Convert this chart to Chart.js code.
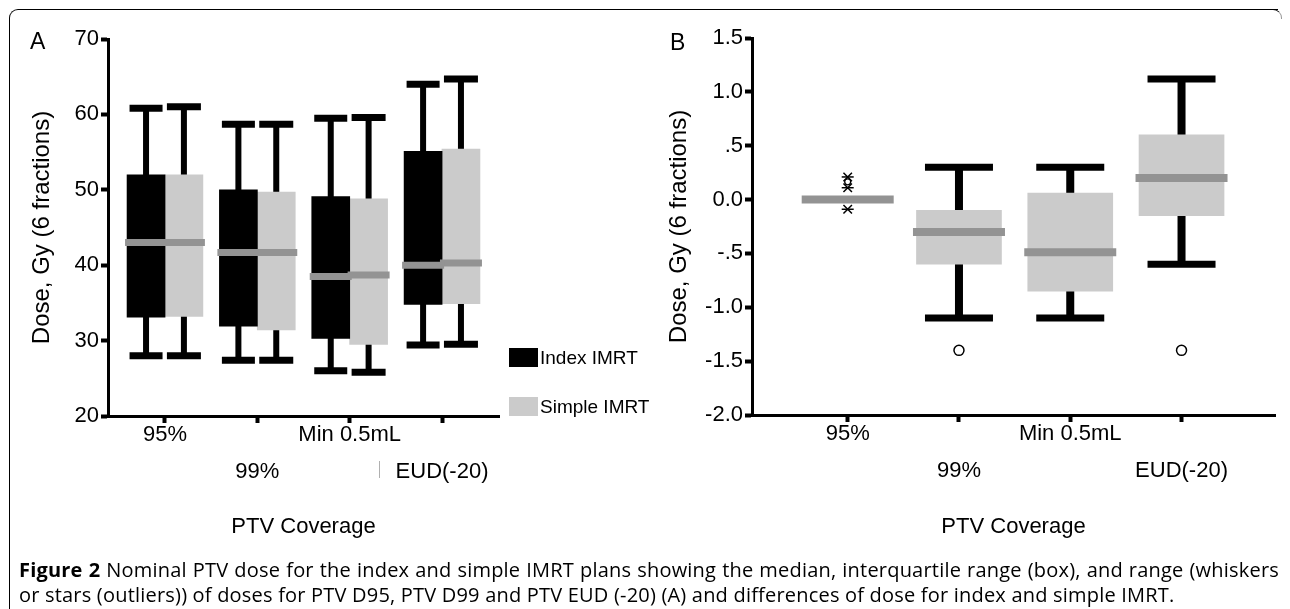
<!DOCTYPE html>
<html>
<head>
<meta charset="utf-8">
<script src="https://cdn.jsdelivr.net/npm/chart.js@4.4.1/dist/chart.umd.min.js"></script>
<style>
html,body{margin:0;padding:0;background:#fff;}
body{width:1290px;height:609px;position:relative;overflow:hidden;font-family:"Liberation Sans",Arial,sans-serif;color:#000;}
#frame{position:absolute;left:9px;top:9px;width:1268px;height:640px;border-left:1.5px solid #000;border-top:1.5px solid #000;border-top-left-radius:9px;}
#corner{position:absolute;left:1272px;top:9px;width:9px;height:9px;border-top:1.5px solid #000;border-right:1.5px solid #999;border-top-right-radius:9px;}
canvas{position:absolute;top:0;}
#cL{left:0;}
#cR{left:650px;}
.plab{position:absolute;font-size:23px;line-height:23px;}
#legend{position:absolute;left:509px;top:348px;font-size:19px;}
.li{position:absolute;left:0;white-space:nowrap;height:19px;}
.li .sw{position:absolute;left:0;top:0;width:29px;height:19px;}
.li .tx{position:absolute;left:31px;top:-1px;line-height:21px;}
#artifact{position:absolute;left:379px;top:461px;width:1px;height:17px;background:#b0b0b0;}
#caption{position:absolute;left:19px;top:557px;width:1260px;font-family:"Open Sans","Noto Sans",sans-serif;font-size:20px;letter-spacing:0.2px;line-height:25px;font-weight:500;color:#000;}
#caption .l1{text-align:justify;text-align-last:justify;white-space:nowrap;}
#caption .l2{white-space:nowrap;}
#caption b{font-weight:700;}
</style>
</head>
<body>
<div id="frame"></div>
<div id="corner"></div>
<canvas id="cL" width="650" height="560"></canvas>
<canvas id="cR" width="640" height="560"></canvas>
<div class="plab" style="left:30px;top:30px;">A</div>
<div class="plab" style="left:670px;top:31px;">B</div>
<div id="legend"></div>
<div id="artifact"></div>
<div id="caption">
<div class="l1"><b>Figure 2</b> Nominal PTV dose for the index and simple IMRT plans showing the median, interquartile range (box), and range (whiskers</div>
<div class="l2">or stars (outliers)) of doses for PTV D95, PTV D99 and PTV EUD (-20) (A) and differences of dose for index and simple IMRT.</div>
</div>
<script>
// ---------- DATA ----------
const categories = ['95%', '99%', 'Min 0.5mL', 'EUD(-20)'];
const labelSecondRow = [false, true, false, true];

// Panel A: absolute dose (Gy)
const indexMin    = [28.0, 27.4, 26.0, 29.4];
const indexQ1     = [33.1, 31.9, 30.3, 34.8];
const indexMedian = [43.0, 41.7, 38.5, 40.0];
const indexQ3     = [52.0, 50.0, 49.1, 55.1];
const indexMax    = [60.8, 58.7, 59.5, 64.0];

const simpleMin    = [28.0, 27.4, 25.8, 29.5];
const simpleQ1     = [33.2, 31.4, 29.5, 34.9];
const simpleMedian = [43.0, 41.7, 38.7, 40.3];
const simpleQ3     = [52.0, 49.7, 48.8, 55.4];
const simpleMax    = [61.0, 58.7, 59.6, 64.7];

const leftYTicks = [20, 30, 40, 50, 60, 70];

// Panel B: differences (Gy)
const diffMin    = [null, -1.1, -1.1, -0.6];
const diffQ1     = [0, -0.6, -0.85, -0.15];
const diffMedian = [0, -0.3, -0.49, 0.2];
const diffQ3     = [0, -0.1, 0.06, 0.6];
const diffMax    = [null, 0.3, 0.3, 1.12];

const diffStarCat   = [1, 1, 1];
const diffStarVals  = [0.21, 0.11, -0.09];
const diffCircleCat  = [2, 4];
const diffCircleVals = [-1.4, -1.4];
const diffSmallCircleCat  = [1];
const diffSmallCircleVals = [0.165];

const rightYTicks      = [-2, -1.5, -1, -0.5, 0, 0.5, 1, 1.5];
const rightYTickLabels = ['-2.0', '-1.5', '-1.0', '-.5', '0.0', '.5', '1.0', '1.5'];

// ---------- STYLE ----------
const FONT = '"Liberation Sans", Arial, sans-serif';
const BOX_BLACK = '#000000';
const BOX_GREY = '#cbcbcb';
const MEDIAN_GREY = '#939393';

function boxSeries(o) {
  const xs = categories.map((c, i) => i + 1 + o.shift);
  const stems = [], caps = [];
  xs.forEach((x, i) => {
    if (o.min[i] === null || o.max[i] === null) return;
    stems.push({x, y: o.min[i]}, {x, y: o.max[i]}, {x, y: null});
    caps.push({x, y: o.min[i]}, {x, y: o.max[i]});
  });
  return [
    {type: 'line', data: stems, borderColor: '#000', borderWidth: o.stemW, pointRadius: 0,
     spanGaps: false, tension: 0, order: 6, clip: false},
    {type: 'bar', label: o.label, data: xs.map((x, i) => ({x, y: [o.q1[i], o.q3[i]]})),
     backgroundColor: o.color, borderWidth: 0, barThickness: o.boxW, grouped: false, order: 5, legendItem: true},
    {type: 'scatter', data: caps, pointStyle: 'line', pointRadius: o.capR, pointBorderWidth: o.capW,
     pointBorderColor: '#000', pointBackgroundColor: '#000', order: 4, clip: false},
    {type: 'scatter', data: xs.map((x, i) => ({x, y: o.med[i]})), pointStyle: 'line', pointRadius: o.medR,
     pointBorderWidth: o.medW, pointBorderColor: MEDIAN_GREY, pointBackgroundColor: MEDIAN_GREY, order: 3, clip: false}
  ];
}

function xAxis(min, max, height) {
  return {
    type: 'linear', min, max, offset: false,
    afterBuildTicks: s => { s.ticks = categories.map((c, i) => ({value: i + 1})); },
    afterFit: s => { s.height = height; s.paddingLeft = 0; s.paddingRight = 0; },
    border: {display: true, color: '#000', width: 3},
    grid: {display: true, drawOnChartArea: false, drawTicks: true, tickLength: 7, tickWidth: 4,
           tickColor: '#000', color: '#000', offset: false},
    ticks: {autoSkip: false, maxRotation: 0, minRotation: 0, padding: -6.25, color: '#000',
            font: {family: FONT, size: 22, lineHeight: '36.5px'},
            callback: (v) => { const i = Math.round(v) - 1; return labelSecondRow[i] ? ['', categories[i]] : categories[i]; }},
    title: {display: true, text: 'PTV Coverage', color: '#000', font: {family: FONT, size: 22, lineHeight: 1.2},
            padding: {top: 0, bottom: 20}}
  };
}

function yAxis(min, max, ticks, labels, width, titlePad) {
  return {
    type: 'linear', min, max,
    afterBuildTicks: s => { s.ticks = ticks.map(v => ({value: v})); },
    afterFit: s => { s.width = width; },
    border: {display: true, color: '#000', width: 3},
    grid: {display: true, drawOnChartArea: false, drawTicks: true, tickLength: 7, tickWidth: 4,
           tickColor: '#000', color: '#000'},
    ticks: {padding: 2, color: '#000', font: {family: FONT, size: 22},
            callback: (v) => { const k = ticks.indexOf(v); return labels ? labels[k] : String(v); }},
    title: {display: true, text: 'Dose, Gy (6 fractions)', color: '#000',
            font: {family: FONT, size: 24, lineHeight: 1.2}, padding: {top: titlePad, bottom: 0}}
  };
}

const commonOpts = {
  responsive: false, animation: false, events: [],
  plugins: {legend: {display: false}, tooltip: {enabled: false}}
};

// ---------- PANEL A ----------
const GROUP_SHIFT = 0.205;
const leftDatasets = [
  ...boxSeries({label: 'Index IMRT', shift: -GROUP_SHIFT, min: indexMin, q1: indexQ1, med: indexMedian, q3: indexQ3, max: indexMax,
                color: BOX_BLACK, boxW: 38, stemW: 6, capR: 16.5, capW: 7, medR: 21, medW: 7}),
  ...boxSeries({label: 'Simple IMRT', shift: GROUP_SHIFT, min: simpleMin, q1: simpleQ1, med: simpleMedian, q3: simpleQ3, max: simpleMax,
                color: BOX_GREY, boxW: 38, stemW: 6, capR: 17, capW: 7, medR: 21, medW: 7})
];

const chartL = new Chart(document.getElementById('cL'), {
  type: 'scatter',
  data: {datasets: leftDatasets},
  options: Object.assign({}, commonOpts, {
    layout: {autoPadding: false, padding: {top: 39, right: 151, bottom: 0, left: 0}},
    scales: {
      x: xAxis(0.383, 4.617, 144),
      y: yAxis(20, 70, leftYTicks, null, 108, 27.5)
    }
  })
});

// ---------- PANEL B ----------
const rightDatasets = [
  ...boxSeries({label: 'Difference', shift: 0, min: diffMin, q1: diffQ1, med: diffMedian, q3: diffQ3, max: diffMax,
                color: BOX_GREY, boxW: 85, stemW: 8, capR: 34, capW: 7, medR: 46, medW: 8}),
  {type: 'scatter', data: diffStarCat.map((c, i) => ({x: c, y: diffStarVals[i]})), pointStyle: 'crossRot',
   pointRadius: 6, pointBorderWidth: 1.5, pointBorderColor: '#000', order: 1, clip: false},
  {type: 'scatter', data: diffStarCat.map((c, i) => ({x: c, y: diffStarVals[i]})), pointStyle: 'line',
   pointRadius: 6, pointBorderWidth: 1.5, pointBorderColor: '#000', order: 1, clip: false},
  {type: 'scatter', data: diffCircleCat.map((c, i) => ({x: c, y: diffCircleVals[i]})), pointStyle: 'circle',
   pointRadius: 5, pointBorderWidth: 1.5, pointBorderColor: '#000', pointBackgroundColor: '#fff', order: 1, clip: false},
  {type: 'scatter', data: diffSmallCircleCat.map((c, i) => ({x: c, y: diffSmallCircleVals[i]})), pointStyle: 'circle',
   pointRadius: 3, pointBorderWidth: 1.3, pointBorderColor: '#000', pointBackgroundColor: 'rgba(0,0,0,0)', order: 1, clip: false}
];

const chartR = new Chart(document.getElementById('cR'), {
  type: 'scatter',
  data: {datasets: rightDatasets},
  options: Object.assign({}, commonOpts, {
    layout: {autoPadding: false, padding: {top: 38, right: 15, bottom: 0, left: 0}},
    scales: {
      x: xAxis(0.14, 4.84, 145),
      y: yAxis(-2, 1.5, rightYTicks, rightYTickLabels, 102, 14.5)
    }
  })
});

// ---------- LEGEND (from panel A datasets) ----------
const legendEl = document.getElementById('legend');
chartL.data.datasets.filter(d => d.legendItem).forEach((d, i) => {
  const item = document.createElement('div');
  item.className = 'li';
  item.style.top = (i * 49) + 'px';
  const sw = document.createElement('span');
  sw.className = 'sw';
  sw.style.background = d.backgroundColor;
  const tx = document.createElement('span');
  tx.className = 'tx';
  tx.textContent = d.label;
  item.appendChild(sw); item.appendChild(tx);
  legendEl.appendChild(item);
});
</script>
</body>
</html>
